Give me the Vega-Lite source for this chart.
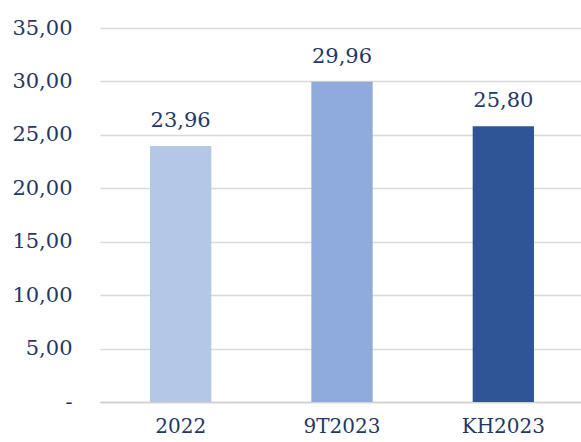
{
  "$schema": "https://vega.github.io/schema/vega-lite/v6.json",
  "autosize": "none",
  "padding": {"left": 100, "top": 28, "right": 0, "bottom": 40},
  "width": 484,
  "height": 374,
  "background": "white",
  "config": {
    "view": {"stroke": null},
    "font": "DejaVu Serif",
    "locale": {"number": {"decimal": ",", "thousands": ".", "grouping": [3], "currency": ["", ""]}}
  },
  "data": {
    "values": [
      {"period": "2022", "value": 23.96},
      {"period": "9T2023", "value": 29.96},
      {"period": "KH2023", "value": 25.80}
    ]
  },
  "encoding": {
    "x": {
      "field": "period",
      "type": "nominal",
      "sort": null,
      "scale": {"paddingInner": 0.62, "paddingOuter": 0.31},
      "axis": {
        "title": null,
        "labelAngle": 0,
        "labelFont": "DejaVu Serif",
        "labelFontSize": 20,
        "labelColor": "#1F3864",
        "labelPadding": 14,
        "ticks": false,
        "domain": true,
        "domainColor": "#D0D0D0",
        "domainWidth": 1.5
      }
    },
    "y": {
      "field": "value",
      "type": "quantitative",
      "scale": {"domain": [0, 35], "nice": false},
      "axis": {
        "title": null,
        "values": [0, 5, 10, 15, 20, 25, 30, 35],
        "labelExpr": "datum.value == 0 ? '-\u2007\u2007' : format(datum.value, '.2f')",
        "labelFont": "DejaVu Serif",
        "labelFontSize": 21,
        "labelColor": "#1F3864",
        "labelPadding": 28,
        "ticks": false,
        "domain": false,
        "grid": true,
        "gridColor": "#D9D9D9",
        "gridWidth": 1.5
      }
    }
  },
  "layer": [
    {
      "mark": {"type": "bar"},
      "encoding": {
        "color": {
          "field": "period",
          "type": "nominal",
          "scale": {"domain": ["2022", "9T2023", "KH2023"], "range": ["#B4C7E7", "#8FAADC", "#2F5597"]},
          "legend": null
        }
      }
    },
    {
      "mark": {"type": "text", "baseline": "bottom", "dy": -15, "font": "DejaVu Serif", "fontSize": 21, "color": "#1F3864"},
      "encoding": {
        "text": {"field": "value", "type": "quantitative", "format": ".2f"}
      }
    }
  ]
}
